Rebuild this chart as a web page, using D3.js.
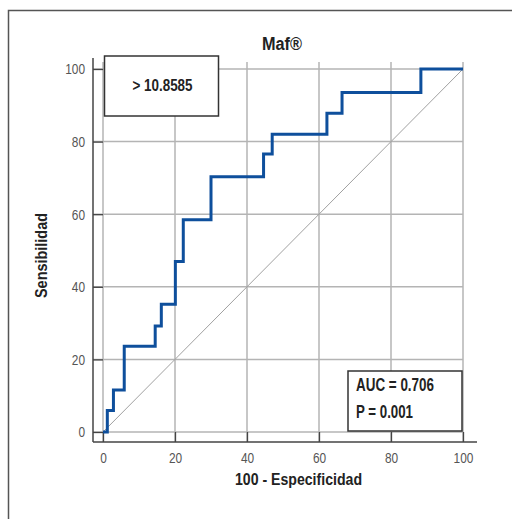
<!DOCTYPE html>
<html><head><meta charset="utf-8">
<script src="https://cdn.jsdelivr.net/npm/d3@7"></script>
<style>
body{margin:0;background:#fff;}
svg{display:block;font-family:"Liberation Sans",Arial,sans-serif;}
</style></head>
<body><svg id="c" width="512" height="519"></svg>
<script>
const title = "Maf®";
const xLabel = "100 - Especificidad";
const yLabel = "Sensibilidad";
const tickValues = [0, 20, 40, 60, 80, 100];
// ROC step points (100 - specificity, sensitivity)
const fpr = [0, 1.2, 2.9, 5.9, 14.5, 16.2, 20.1, 22.3, 30.0, 44.6, 47.0, 62.2, 66.4, 88.3, 100];
const tpr = [0, 5.9, 11.6, 23.6, 29.2, 35.2, 47.0, 58.5, 70.3, 76.6, 82.0, 87.8, 93.5, 100, 100];
const cutoffText = "> 10.8585";
const statsText = ["AUC = 0.706", "P = 0.001"];

const svg = d3.select("#c");
const x = d3.scaleLinear().domain([0, 100]).range([103, 463]);
const y = d3.scaleLinear().domain([0, 100]).range([432, 69]);
const axX = 93, axY = 442;
const narrow = (sel, w) => sel.attr("textLength", w).attr("lengthAdjust", "spacingAndGlyphs");

// outer frame
svg.append("path").attr("d", "M8.5,530 L8.5,10.5 L520,10.5")
  .attr("fill", "none").attr("stroke", "#555").attr("stroke-width", 1.5);

// grid
const g = svg.append("g");
g.selectAll(".hg").data(tickValues).join("line")
  .attr("x1", axX).attr("x2", x(100)).attr("y1", d => y(d)).attr("y2", d => y(d))
  .attr("stroke", "#b4b4b4").attr("stroke-width", 1.5);
g.selectAll(".vg").data(tickValues).join("line")
  .attr("x1", d => x(d)).attr("x2", d => x(d)).attr("y1", 62).attr("y2", axY)
  .attr("stroke", "#b4b4b4").attr("stroke-width", 1.5);

// diagonal
svg.append("line").attr("x1", x(0)).attr("y1", y(0)).attr("x2", x(100)).attr("y2", y(100))
  .attr("stroke", "#a0a0a0").attr("stroke-width", 1);

// axes
const yAxis = d3.axisLeft(y).tickValues(tickValues).tickSize(-10).tickSizeOuter(0).tickPadding(8);
const xAxis = d3.axisBottom(x).tickValues(tickValues).tickSize(-10).tickSizeOuter(0).tickPadding(10);
const ya = svg.append("g").attr("transform", `translate(${axX},0)`).call(yAxis);
const xa = svg.append("g").attr("transform", `translate(0,${axY})`).call(xAxis);
[ya, xa].forEach(a => {
  a.select(".domain").remove();
  a.selectAll(".tick line").attr("stroke", "#444").attr("stroke-width", 1.3);
  a.selectAll(".tick text").attr("fill", "#555").attr("font-size", 15.5)
    .attr("font-family", "\"Liberation Sans\",Arial,sans-serif")
    .each(function () { narrow(d3.select(this), this.textContent.length * 6.6); });
});
svg.append("line").attr("x1", axX).attr("x2", axX).attr("y1", 58).attr("y2", axY)
  .attr("stroke", "#444").attr("stroke-width", 1.5);
svg.append("line").attr("x1", axX).attr("x2", 477).attr("y1", axY).attr("y2", axY)
  .attr("stroke", "#444").attr("stroke-width", 1.5);

// ROC curve
const pts = fpr.map((v, i) => [v, tpr[i]]);
svg.append("path").datum(pts)
  .attr("d", d3.line().x(d => x(d[0])).y(d => y(d[1])).curve(d3.curveStepAfter))
  .attr("fill", "none").attr("stroke", "#0e4f9c").attr("stroke-width", 3);

// title & labels
narrow(svg.append("text").attr("x", 262).attr("y", 50)
  .attr("font-weight", "bold").attr("font-size", 17.5).attr("fill", "#222").text(title), 40);
narrow(svg.append("text").attr("x", 235).attr("y", 485)
  .attr("font-weight", "bold").attr("font-size", 17).attr("fill", "#222").text(xLabel), 127);
narrow(svg.append("text").attr("transform", "translate(47,298) rotate(-90)")
  .attr("font-weight", "bold").attr("font-size", 17).attr("fill", "#222").text(yLabel), 85);

// cutoff box
svg.append("rect").attr("x", 104.5).attr("y", 56).attr("width", 114).attr("height", 60)
  .attr("fill", "#fff").attr("stroke", "#333").attr("stroke-width", 1.5);
narrow(svg.append("text").attr("x", 132.5).attr("y", 90.5)
  .attr("font-weight", "bold").attr("font-size", 16).attr("fill", "#222").text(cutoffText), 60);

// stats box
svg.append("rect").attr("x", 348).attr("y", 371).attr("width", 114).attr("height", 60)
  .attr("fill", "#fff").attr("stroke", "#333").attr("stroke-width", 1.5);
const statW = [78, 57];
svg.selectAll(".st").data(statsText).join("text")
  .attr("x", 356).attr("y", (d, i) => 391 + i * 27)
  .attr("font-weight", "bold").attr("font-size", 17.5).attr("fill", "#222").text(d => d)
  .each(function (d, i) { narrow(d3.select(this), statW[i]); });
</script></body></html>
